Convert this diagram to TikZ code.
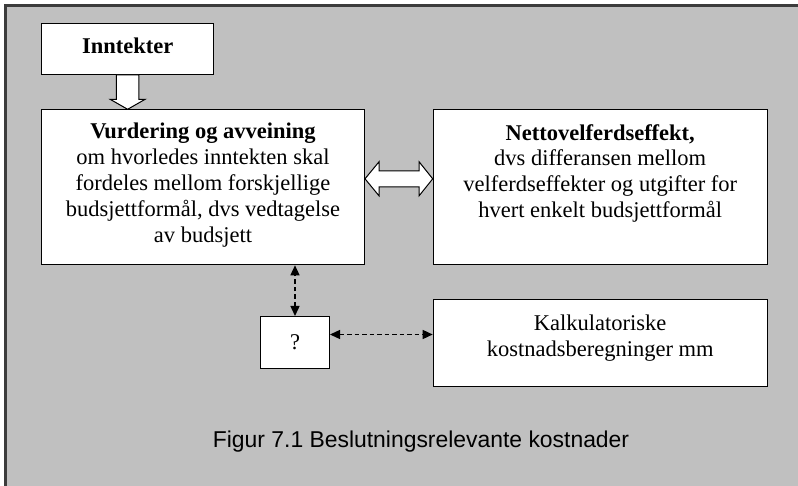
\documentclass[tikz,border=0pt]{standalone}
\usepackage{fontspec}
\setmainfont{Liberation Serif}
\newfontfamily\capfont{Liberation Sans}
\usetikzlibrary{arrows.meta,calc}
\definecolor{bggray}{HTML}{C0C0C0}
\definecolor{framegray}{HTML}{3C3C3C}
\begin{document}
\begin{tikzpicture}[x=1pt,y=-1pt,
  box/.style={draw=black,line width=1pt,fill=white,inner sep=0pt,anchor=north west},
  txt/.style={inner sep=0pt,align=center,font=\fontsize{22.5}{25.8}\selectfont},
  hollow/.style={draw=black,line width=1pt,fill=white,line join=miter},
  dasharrow/.style={line width=1.4pt,dash pattern=on 4.5pt off 3pt,
    {Triangle[length=10pt,width=9pt]}-{Triangle[length=10pt,width=9pt]}}]
\useasboundingbox (0,0) rectangle (798,486);
\clip (0,0) rectangle (798,486);
\path[fill=bggray,draw=framegray,line width=2.4pt] (5.5,5.5) rectangle (815,505);

% boxes
\node[box,minimum width=172.3pt,minimum height=51.3pt] (inn) at (41,22.7) {};
\node[box,minimum width=323pt,minimum height=155pt] (vur) at (41,109.3) {};
\node[box,minimum width=334pt,minimum height=155pt] (net) at (432.7,109.3) {};
\node[box,minimum width=69pt,minimum height=52pt] (q) at (260,316) {};
\node[box,minimum width=334pt,minimum height=86.7pt] (kal) at (432.7,299) {};

% texts
\node[txt,anchor=base] (inntxt) at ($(inn.center)+(0,5)$) {\textbf{Inntekter}};
\node[txt,anchor=north] (vurtxt) at ($(vur.north)+(0,13.7)$)
  {\textbf{Vurdering og avveining}\\om hvorledes inntekten skal\\fordeles mellom forskjellige\\budsjettformål, dvs vedtagelse\\av budsjett};
\node[txt,anchor=north] (nettxt) at ($(net.north)+(0,14.7)$)
  {\textbf{Nettovelferdseffekt,}\\dvs differansen mellom\\velferdseffekter og utgifter for\\hvert enkelt budsjettformål};
\node[txt] (qtxt) at (q.center) {?};
\node[txt,anchor=north] (kaltxt) at ($(kal.north)+(0,15.5)$)
  {Kalkulatoriske\\kostnadsberegninger mm};
\node[anchor=base west,inner sep=0pt,font=\capfont\fontsize{22.9}{26}\selectfont] (cap) at (212.7,447.5)
  {Figur 7.1 Beslutningsrelevante kostnader};

% hollow down arrow
\coordinate (dt) at (inn.south |- vur.north);
\draw[hollow] ($(inn.south)+(-11.3,0)$) -- ($(inn.south)+(11.3,0)$) -- ($(dt)+(11.3,-10)$)
  -- ($(dt)+(17.5,-10)$) -- (dt) -- ($(dt)+(-17.5,-10)$) -- ($(dt)+(-11.3,-10)$) -- cycle;

% hollow double arrow
\coordinate (lt) at ([yshift=8.5pt]vur.east);
\coordinate (rt) at (lt -| net.west);
\draw[hollow] (lt) -- ($(lt)+(14,-17)$) -- ($(lt)+(14,-8)$) -- ($(rt)+(-13.6,-8)$)
  -- ($(rt)+(-13.6,-17)$) -- (rt) -- ($(rt)+(-13.6,17)$) -- ($(rt)+(-13.6,8)$)
  -- ($(lt)+(14,8)$) -- ($(lt)+(14,17)$) -- cycle;

% dashed arrows
\draw[dasharrow] (q.north) -- (q.north |- vur.south);
\draw[dasharrow] ([yshift=8pt]q.east) -- ([yshift=8pt]q.east -| kal.west);
\end{tikzpicture}
\end{document}
